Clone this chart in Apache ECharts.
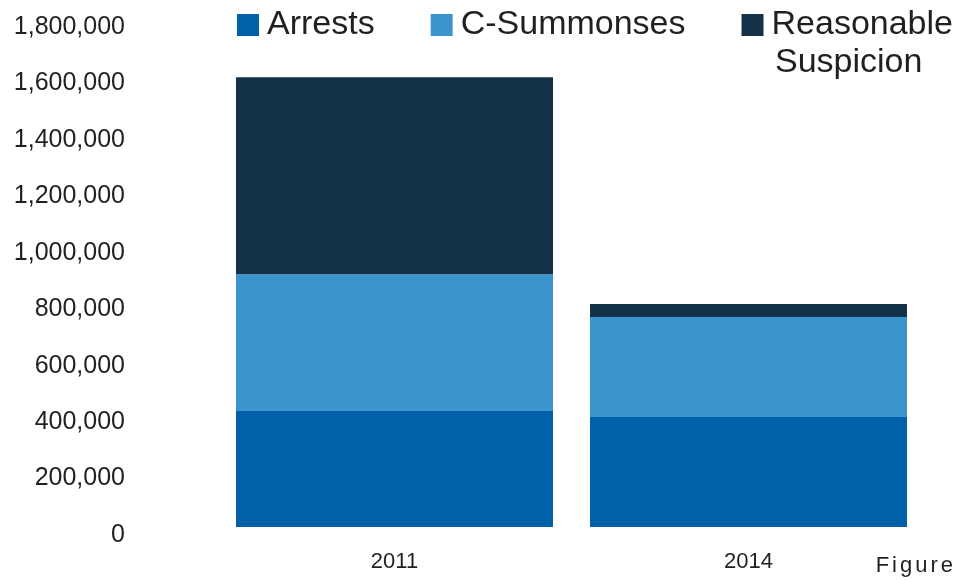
<!DOCTYPE html>
<html>
<head>
<meta charset="utf-8">
<script src="https://cdn.jsdelivr.net/npm/echarts@6/dist/echarts.min.js"></script>
<style>
  html, body { margin: 0; padding: 0; background: #fff; }
  #chart { width: 956px; height: 580px; }
</style>
</head>
<body>
<div id="chart"></div>
<script>
// Stop outcomes by year (stacked)
const years = ['2011', '2014'];
const arrests = [411000, 390000];
const cSummonses = [485000, 354000];
const reasonableSuspicion = [698000, 46000];
const seriesNames = ['Arrests', 'C-Summonses', 'Reasonable Suspicion'];
const yTicks = [0, 200000, 400000, 600000, 800000, 1000000, 1200000, 1400000, 1600000, 1800000];

const colors = ['#0061a8', '#3c94cc', '#133247'];
const textColor = '#231f20';
const fontFamily = '"Liberation Sans", Arial, Helvetica, sans-serif';

const chart = echarts.init(document.getElementById('chart'), null, { renderer: 'canvas' });

// Letter-spaced footer word, laid out from measured glyph widths
function spacedText(word, fontSize, spacing, right, cy) {
  const ctx = document.createElement('canvas').getContext('2d');
  ctx.font = fontSize + 'px ' + fontFamily;
  const widths = word.split('').map(ch => ctx.measureText(ch).width);
  const total = widths.reduce((a, b) => a + b, 0) + spacing * (word.length - 1);
  let x = right - total;
  return word.split('').map((ch, i) => {
    const el = {
      type: 'text',
      x: x, y: cy,
      style: { text: ch, font: fontSize + 'px ' + fontFamily, fill: textColor, verticalAlign: 'middle', align: 'left' },
      silent: true
    };
    x += widths[i] + spacing;
    return el;
  });
}

const option = {
  animation: false,
  backgroundColor: '#ffffff',
  color: colors,
  grid: { left: 217.5, right: 30.5, top: 19, bottom: 53, containLabel: false },
  legend: {
    left: 237,
    top: 8,
    width: 760,
    padding: 0,
    icon: 'rect',
    itemWidth: 22,
    itemHeight: 22,
    itemGap: 56,
    data: seriesNames,
    formatter: name => name === 'Reasonable Suspicion' ? 'Reasonable' : name,
    textStyle: { fontSize: 34, fontFamily: fontFamily, color: textColor, lineHeight: 22, padding: [0, 0, 0, 3] }
  },
  xAxis: {
    type: 'category',
    data: years,
    axisLine: { show: false },
    axisTick: { show: false },
    axisLabel: { fontSize: 22, fontFamily: fontFamily, color: textColor, margin: 24, lineHeight: 22 }
  },
  yAxis: {
    type: 'value',
    min: yTicks[0],
    max: yTicks[yTicks.length - 1],
    interval: yTicks[1] - yTicks[0],
    axisLine: { show: false },
    axisTick: { show: false },
    splitLine: { show: false },
    axisLabel: {
      fontSize: 25,
      fontFamily: fontFamily,
      color: textColor,
      margin: 92.5,
      verticalAlign: 'top',
      lineHeight: 16,
      formatter: v => v.toLocaleString('en-US')
    }
  },
  series: [
    { name: seriesNames[0], type: 'bar', stack: 'total', data: arrests, barWidth: 317 },
    { name: seriesNames[1], type: 'bar', stack: 'total', data: cSummonses, barWidth: 317 },
    { name: seriesNames[2], type: 'bar', stack: 'total', data: reasonableSuspicion, barWidth: 317 }
  ],
  graphic: [
    {
      type: 'text',
      left: 775,
      top: 46,
      silent: true,
      style: { text: 'Suspicion', font: '34px ' + fontFamily, fill: textColor }
    }
  ].concat(spacedText('Figure', 22, 3, 953, 566))
};

chart.setOption(option);
</script>
</body>
</html>
